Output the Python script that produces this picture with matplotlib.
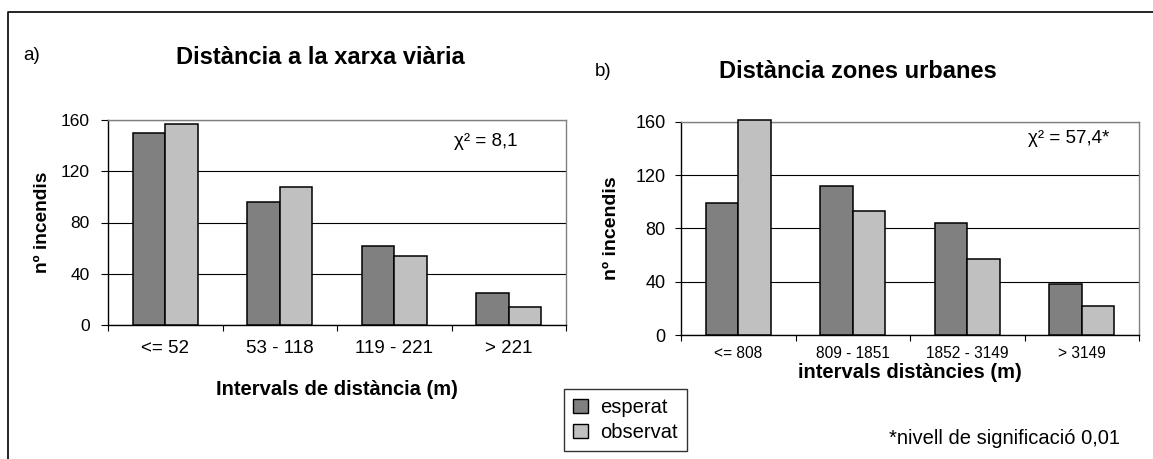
import matplotlib
matplotlib.use("Agg")
import matplotlib.pyplot as plt
from matplotlib.lines import Line2D
from matplotlib.patches import Patch

plt.rcParams['font.family'] = ['Liberation Sans', 'DejaVu Sans']

# dades: incendis esperats / observats per interval
cats_a = ["<= 52", "53 - 118", "119 - 221", "> 221"]
esperat_a = [150, 96, 62, 25]
observat_a = [157, 108, 54, 14]

cats_b = ["<= 808", "809 - 1851", "1852 - 3149", "> 3149"]
esperat_b = [99, 112, 84, 38]
observat_b = [161, 93, 57, 22]

yticks = [0, 40, 80, 120, 160]
series_names = ["esperat", "observat"]
colors = ["#808080", "#c0c0c0"]

W, H = 1153, 459
fig = plt.figure(figsize=(W / 100, H / 100), dpi=100)


def fx(px):
    return px / W


def fy(py):
    return 1 - py / H


def draw_panel(ax, cats, esp, obs, xt_size, yt_size, xt_pad, yt_pad, ytick_len):
    w = 1 / 3.5
    x = range(len(cats))
    for vals, off, c in [(esp, -w / 2, colors[0]), (obs, w / 2, colors[1])]:
        ax.bar([i + off for i in x], vals, width=w, color=c, edgecolor="black",
               linewidth=1.1, zorder=3, clip_on=False)
    ax.set_xlim(-0.5, len(cats) - 0.5)
    ax.set_ylim(0, 160)
    ax.set_yticks(yticks)
    ax.set_xticks(list(x))
    ax.set_xticklabels(cats, fontsize=xt_size)
    ax.set_xticks([i - 0.5 for i in range(len(cats) + 1)], minor=True)
    ax.tick_params(axis="x", which="major", length=0, pad=xt_pad)
    ax.tick_params(axis="x", which="minor", length=4, width=0.8, direction="out")
    ax.tick_params(axis="y", labelsize=yt_size, length=ytick_len, width=0.8, pad=yt_pad)
    ax.yaxis.grid(True, color="black", linewidth=0.8)
    ax.set_axisbelow(True)
    for s in ["top", "right"]:
        ax.spines[s].set_color("#808080")
        ax.spines[s].set_linewidth(1.0)
    for s in ["left", "bottom"]:
        ax.spines[s].set_color("black")
        ax.spines[s].set_linewidth(1.0)


ax1 = fig.add_axes([fx(108), fy(325), fx(566) - fx(108), fy(120) - fy(325)])
draw_panel(ax1, cats_a, esperat_a, observat_a, 13.5, 12.5, 11, 8, 5)
ax1.set_ylabel("nº incendis", fontsize=13.8, fontweight="bold", va="center")
ax1.yaxis.set_label_coords((43 - 108) / 458, 0.5)
ax1.set_xlabel("Intervals de distància (m)", fontsize=14.5, fontweight="bold", va="center")
ax1.xaxis.set_label_coords(0.5, (325 - 390) / 205)

ax2 = fig.add_axes([fx(681), fy(335), fx(1139) - fx(681), fy(121.7) - fy(335)])
draw_panel(ax2, cats_b, esperat_b, observat_b, 11.2, 13, 8, 7, 4)
ax2.set_ylabel("nº incendis", fontsize=14, fontweight="bold", va="center")
ax2.yaxis.set_label_coords((611 - 681) / 458, 0.5)
ax2.set_xlabel("intervals distàncies (m)", fontsize=14.5, fontweight="bold", va="center")
ax2.xaxis.set_label_coords(0.5, (335 - 373) / 213.3)

# títols i etiquetes de panell
fig.text(fx(32), fy(55), "a)", fontsize=13.5, ha="center", va="center")
fig.text(fx(320), fy(57), "Distància a la xarxa viària", fontsize=17, fontweight="bold",
         ha="center", va="center")
fig.text(fx(603), fy(71), "b)", fontsize=13.5, ha="center", va="center")
fig.text(fx(858), fy(71), "Distància zones urbanes", fontsize=17, fontweight="bold",
         ha="center", va="center")

ax1.text(0.755, 0.893, "χ² = 8,1", transform=ax1.transAxes, fontsize=13.5,
         ha="left", va="center")
ax2.text(0.758, 0.92, "χ² = 57,4*", transform=ax2.transAxes, fontsize=13.5,
         ha="left", va="center")

fig.text(fx(1120), fy(438), "*nivell de significació 0,01", fontsize=14.5,
         ha="right", va="center")

# llegenda
handles = [Patch(facecolor=c, edgecolor="black", linewidth=1.0) for c in colors]
leg = fig.legend(handles, series_names, loc="upper left",
                 bbox_to_anchor=(fx(564), fy(389)), fontsize=14.5,
                 frameon=True, fancybox=False, edgecolor="black",
                 handlelength=0.75, handleheight=0.75, handletextpad=0.6,
                 borderpad=0.45, labelspacing=0.3, borderaxespad=0)
leg.get_frame().set_linewidth(1.0)

# marc exterior
fig.add_artist(Line2D([fx(8), fx(8), 1.01], [-0.01, fy(12), fy(12)],
                      transform=fig.transFigure, color="black", linewidth=1.2))

fig.savefig("out.png", dpi=100)
